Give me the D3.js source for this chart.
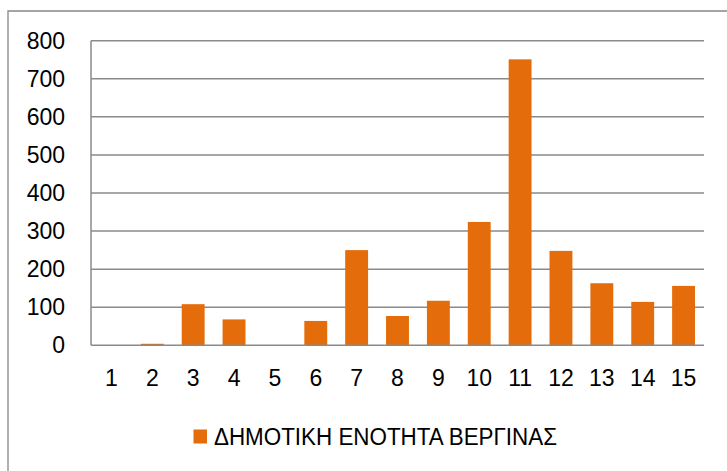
<!DOCTYPE html>
<html><head><meta charset="utf-8">
<script src="https://cdn.jsdelivr.net/npm/d3@7"></script>
<style>body{margin:0;background:#fff}svg{display:block}</style>
</head><body>
<script>
const categories = ["1","2","3","4","5","6","7","8","9","10","11","12","13","14","15"];
const values = [0, 4, 108, 68, 0, 64, 250, 77, 117, 324, 751, 248, 163, 114, 156];
const yTicks = [0,100,200,300,400,500,600,700,800];
const seriesName = "ΔΗΜΟΤΙΚΗ ΕΝΟΤΗΤΑ ΒΕΡΓΙΝΑΣ";

(function(){
const W = 727, H = 471;
const pL = 91, pR = 704, pT = 40.7, pB = 345.3;
const font = "'Liberation Sans', Arial, sans-serif";
const fs = 23;
const svg = d3.select("body").append("svg").attr("width", W).attr("height", H);

// outer border (left & top visible)
svg.append("path").attr("d", `M8,${H+2} L8,11 L${W+2},11`)
  .attr("fill","none").attr("stroke","#888").attr("stroke-width",1.3);

const x = d3.scaleBand().domain(categories).range([pL, pR]).paddingInner(0.44).paddingOuter(0.22);
const y = d3.scaleLinear().domain([0, 800]).range([pB, pT]);

// gridlines
svg.append("g").selectAll("line").data(yTicks.filter(d=>d>0)).join("line")
  .attr("x1", pL).attr("x2", pR).attr("y1", d=>y(d)).attr("y2", d=>y(d))
  .attr("stroke","#8a8a8a").attr("stroke-width",1.5);

// y axis labels
const yAxis = d3.axisLeft(y).tickValues(yTicks).tickSize(0).tickPadding(26);
const gy = svg.append("g").attr("transform",`translate(${pL},0)`).call(yAxis);
gy.select(".domain").remove();
gy.selectAll("text").attr("font-family", font).attr("font-size", fs).attr("fill","#000");

// bars
svg.append("g").selectAll("rect").data(values).join("rect")
  .attr("x", (d,i)=>x(categories[i])).attr("width", x.bandwidth())
  .attr("y", d=>y(d)).attr("height", d=>pB - y(d))
  .attr("fill","#E46C0A");

// axis lines
svg.append("line").attr("x1",pL).attr("x2",pL).attr("y1",pT).attr("y2",pB)
  .attr("stroke","#8a8a8a").attr("stroke-width",1.5);
svg.append("line").attr("x1",pL).attr("x2",pR).attr("y1",pB).attr("y2",pB)
  .attr("stroke","#8a8a8a").attr("stroke-width",1.5);

// x axis labels
const xAxis = d3.axisBottom(x).tickSize(0).tickPadding(24);
const gx = svg.append("g").attr("transform",`translate(0,${pB})`).call(xAxis);
gx.select(".domain").remove();
gx.selectAll("text").attr("font-family", font).attr("font-size", fs).attr("fill","#000");

// legend
const lg = svg.append("g");
lg.append("rect").attr("x",193.5).attr("y",429.5).attr("width",13.5).attr("height",14).attr("fill","#E46C0A");
lg.append("text").attr("x",214).attr("y",444.5).attr("font-family",font).attr("font-size",fs)
  .attr("textLength",343).attr("lengthAdjust","spacingAndGlyphs")
  .attr("fill","#000").text(seriesName);
})();
</script>
</body></html>
